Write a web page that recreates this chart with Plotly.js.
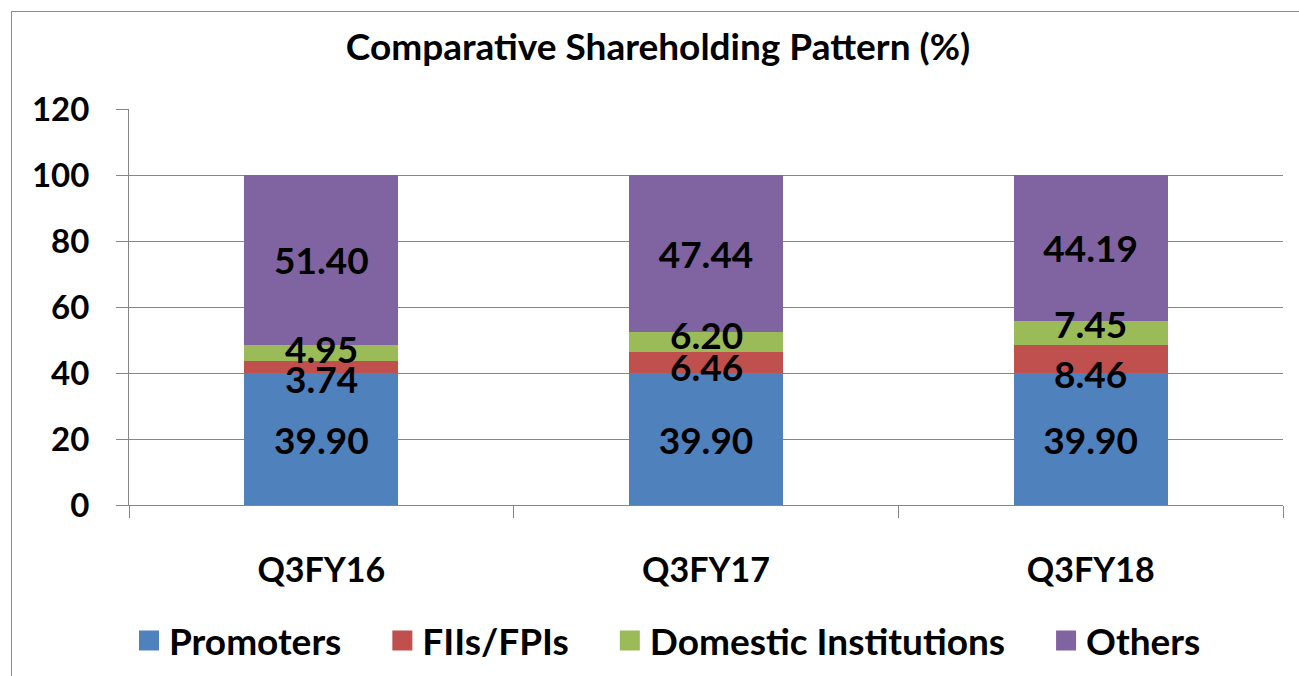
<!DOCTYPE html>
<html>
<head>
<meta charset="utf-8">
<script src="https://cdn.plot.ly/plotly-3.0.1.min.js"></script>
<style>
  html, body { margin: 0; padding: 0; background: #ffffff; }
  #wrap { position: relative; width: 1299px; height: 676px; overflow: hidden; }
  #chart { width: 1299px; height: 676px; }
  #frame { position: absolute; left: 11px; top: 11px; width: 1300px; height: 680px;
           border: 1px solid #8c8c8c; box-sizing: border-box; pointer-events: none; }
</style>
</head>
<body>
<div id="wrap">
  <div id="chart"></div>
  <div id="frame"></div>
</div>
<script>
const categories = ["Q3FY16", "Q3FY17", "Q3FY18"];
const promoters = [39.90, 39.90, 39.90];
const fiis = [3.74, 6.46, 8.46];
const domestic = [4.95, 6.20, 7.45];
const others = [51.40, 47.44, 44.19];
const seriesNames = ["Promoters", "FIIs/FPIs", "Domestic Institutions", "Others"];
const yTicks = [0, 20, 40, 60, 80, 100, 120];

// styling
const colors = ["#4F81BD", "#C0504D", "#9BBB59", "#8064A2"];
const FONT = "Lato, 'Open Sans', sans-serif";
const LABEL_SIZE = 37;
// pixel nudges of the small-segment labels (as placed in the original, to reduce overlap)
const labelShift = { 1: [-11, -4, -14], 2: [4, 7, 10] };
const legendPad = "\u00a0\u00a0\u00a0\u00a0";

const seriesValues = [promoters, fiis, domestic, others];

const traces = seriesValues.map((vals, i) => {
  const inBar = !(i in labelShift);
  return {
    type: "bar",
    name: seriesNames[i],
    x: categories,
    y: vals,
    marker: { color: colors[i] },
    text: inBar ? vals.map(v => v.toFixed(2)) : undefined,
    textposition: inBar ? "inside" : "none",
    insidetextanchor: "middle",
    constraintext: "none",
    textfont: { family: FONT, size: LABEL_SIZE, color: "#000000", weight: "bold" },
    showlegend: false,
    hoverinfo: "none"
  };
});

// legend-only entries (no marks) to get larger square swatches
seriesNames.forEach((name, i) => {
  traces.push({
    type: "scatter",
    mode: "markers",
    name: name + legendPad,
    x: [null],
    y: [null],
    marker: { symbol: "square", size: 16, color: colors[i], line: { color: colors[i], width: 4 } },
    showlegend: true,
    hoverinfo: "none"
  });
});

// labels for the thin segments, placed at the segment centers
const annotations = [];
Object.keys(labelShift).forEach(key => {
  const i = Number(key);
  categories.forEach((c, j) => {
    let base = 0;
    for (let k = 0; k < i; k++) base += seriesValues[k][j];
    const v = seriesValues[i][j];
    annotations.push({
      x: c, y: base + v / 2, xref: "x", yref: "y",
      text: v.toFixed(2), showarrow: false,
      yshift: labelShift[i][j],
      font: { family: FONT, size: LABEL_SIZE, color: "#000000", weight: "bold" }
    });
  });
});

const layout = {
  width: 1299,
  height: 676,
  barmode: "stack",
  bargap: 0.6,
  paper_bgcolor: "#ffffff",
  plot_bgcolor: "#ffffff",
  margin: { l: 129, r: 16, t: 109, b: 171, autoexpand: false },
  title: {
    text: "<b>Comparative Shareholding Pattern (%)</b>",
    font: { family: FONT, size: 37, color: "#000000" },
    x: 658 / 1299, xanchor: "center", xref: "container",
    y: 1 - 47 / 676, yanchor: "middle", yref: "container"
  },
  annotations: annotations,
  xaxis: {
    type: "category",
    tickson: "boundaries",
    ticks: "outside",
    ticklen: 12,
    tickcolor: "#868686",
    showline: true,
    linecolor: "#868686",
    linewidth: 1,
    showgrid: false,
    ticklabelstandoff: 35,
    tickfont: { family: FONT, size: 34, color: "#000000", weight: "bold" }
  },
  yaxis: {
    range: [0, 120],
    tickvals: yTicks,
    ticks: "outside",
    ticklen: 12,
    tickcolor: "#868686",
    showline: true,
    linecolor: "#868686",
    linewidth: 1,
    showgrid: true,
    gridcolor: "#868686",
    gridwidth: 1,
    zeroline: false,
    ticklabelstandoff: 20,
    tickfont: { family: FONT, size: 33, color: "#000000", weight: "bold" }
  },
  showlegend: true,
  legend: {
    orientation: "h",
    x: 0, xanchor: "left",
    y: (505 - 641) / 396, yanchor: "middle",
    font: { family: FONT, size: 37, color: "#000000", weight: "bold" },
    traceorder: "normal",
    itemsizing: "trace"
  }
};

Plotly.newPlot("chart", traces, layout, { displayModeBar: false, staticPlot: true });
</script>
</body>
</html>
